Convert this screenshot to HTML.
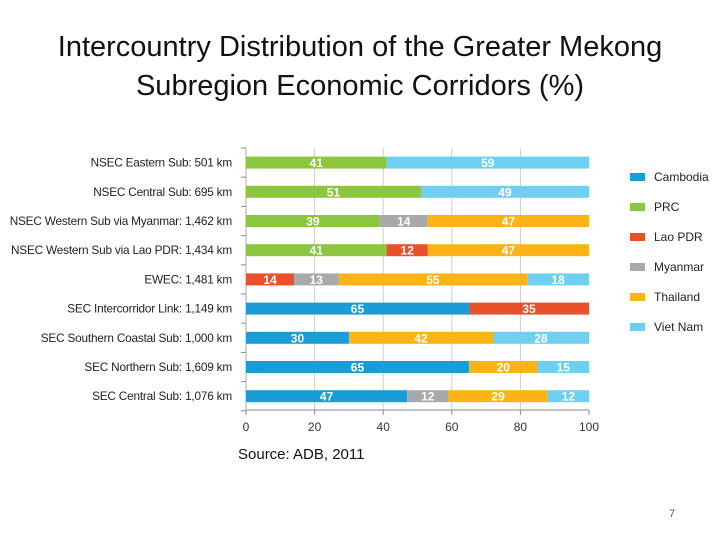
<!DOCTYPE html>
<html><head><meta charset="utf-8"><style>
body{margin:0;background:#fff;}
#wrap{position:relative;width:720px;height:540px;overflow:hidden;font-family:"Liberation Sans",sans-serif;}
.title{position:absolute;left:0;width:720px;text-align:center;font-size:29px;color:#111;white-space:nowrap;}
</style></head><body>
<div id="wrap">
<div class="title" style="top:31px">Intercountry Distribution of the Greater Mekong</div>
<div class="title" style="top:70px">Subregion Economic Corridors (%)</div>
<svg id="chart" width="720" height="540" style="position:absolute;left:0;top:0"></svg>
<div style="position:absolute;left:238px;top:446px;font-size:15px;color:#111">Source: ADB, 2011</div>
<div style="position:absolute;left:669px;top:508px;font-size:11px;color:#555">7</div>
</div>
<script>
const categories=["NSEC Eastern Sub: 501 km","NSEC Central Sub: 695 km","NSEC Western Sub via Myanmar: 1,462 km","NSEC Western Sub via Lao PDR: 1,434 km","EWEC: 1,481 km","SEC Intercorridor Link: 1,149 km","SEC Southern Coastal Sub: 1,000 km","SEC Northern Sub: 1,609 km","SEC Central Sub: 1,076 km"];
const seriesNames=["Cambodia","PRC","Lao PDR","Myanmar","Thailand","Viet Nam"];
const cambodia=[0,0,0,0,0,65,30,65,47];
const prc=[41,51,39,41,0,0,0,0,0];
const laoPdr=[0,0,0,12,14,35,0,0,0];
const myanmar=[0,0,14,0,13,0,0,0,12];
const thailand=[0,0,47,47,55,0,42,20,29];
const vietNam=[59,49,0,0,18,0,28,15,12];
const xTicks=[0,20,40,60,80,100];
const colors=["#1a9dd6","#8cc63f","#e8522a","#a7a9ac","#fbb316","#6fcff0"];
const series=[cambodia,prc,laoPdr,myanmar,thailand,vietNam];
const NS="http://www.w3.org/2000/svg";
const svg=document.getElementById('chart');
const x0=246,x1=589,yTop=148,rowH=29.2,barH=12,axisY=410;
const X=v=>x0+(x1-x0)*v/100;
const Y=i=>yTop+rowH*(i+0.5);
function mk(t,a){const e=document.createElementNS(NS,t);for(const k in a)e.setAttribute(k,a[k]);svg.appendChild(e);return e;}
xTicks.forEach(t=>{
 if(t>0&&t<100){const g=mk('line',{x1:X(t),x2:X(t),y1:yTop,y2:axisY,stroke:'#ccc','stroke-width':1});
 
 }
 const tk=mk('line',{x1:X(t),x2:X(t),y1:axisY,y2:axisY+5,stroke:'#888'});
 
 
 const tx=mk('text',{x:X(t),y:axisY+21,'text-anchor':'middle','font-size':12,fill:'#333','font-family':'Liberation Sans,sans-serif'});
 tx.textContent=t;
 
 
});
const ax=mk('line',{x1:x0,x2:x1,y1:axisY,y2:axisY,stroke:'#888'});


const ay=mk('line',{x1:x0,x2:x0,y1:yTop,y2:axisY,stroke:'#aaa'});


for(let i=0;i<=categories.length;i++){
 const l=mk('line',{x1:x0-5,x2:x0,y1:yTop+rowH*i,y2:yTop+rowH*i,stroke:'#888'});
 
 
}
categories.forEach((c,i)=>{
 const t=mk('text',{x:232,y:Y(i)+4,'text-anchor':'end','font-size':11.8,fill:'#222','font-family':'Liberation Sans,sans-serif','letter-spacing':'-0.2'});
 t.textContent=c;
 
 
 let acc=0;
 series.forEach((s,j)=>{
  const v=s[i]; if(!v) return;
  const r=mk('rect',{x:X(acc),y:Y(i)-barH/2,width:X(acc+v)-X(acc),height:barH,fill:colors[j]});
  
  
  const vt=mk('text',{x:(X(acc)+X(acc+v))/2,y:Y(i)+4.5,'text-anchor':'middle','font-size':12,'font-weight':'bold',fill:'#fff','font-family':'Liberation Sans,sans-serif'});
  vt.textContent=v;
  
  
  acc+=v;
 });
});
seriesNames.forEach((n,j)=>{
 const y=177+30*j;
 const r=mk('rect',{x:630,y:y-4,width:15,height:8,fill:colors[j]});
 
 
 const t=mk('text',{x:654,y:y+4,'font-size':12,fill:'#222','font-family':'Liberation Sans,sans-serif'});
 t.textContent=n;
 
 
});
</script>
</body></html>
